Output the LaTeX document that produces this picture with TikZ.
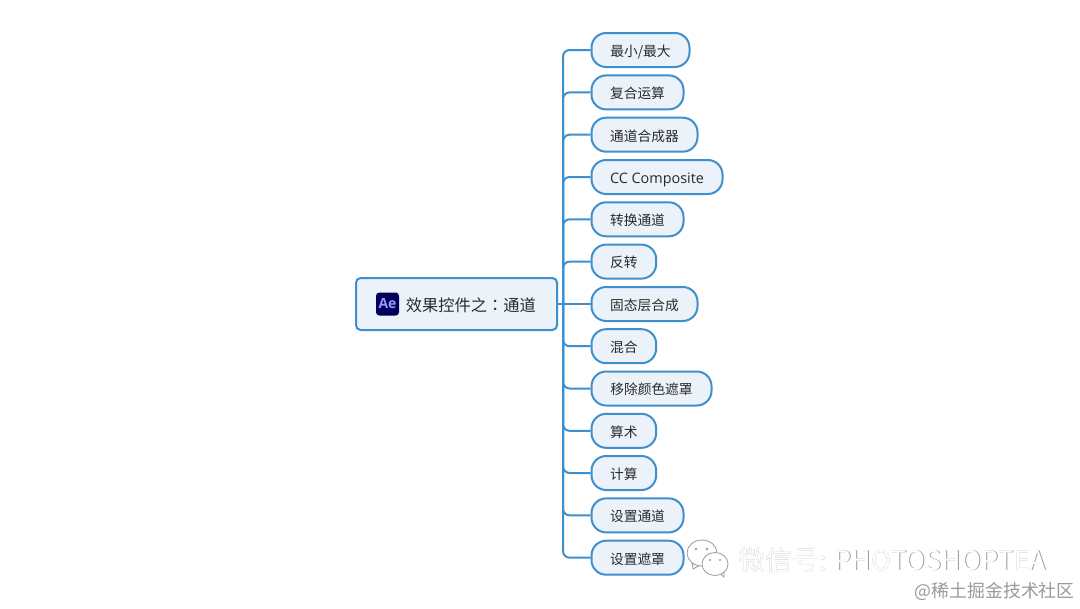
\documentclass[tikz,border=0pt]{standalone}
\usepackage{fontspec}
\setmainfont{Noto Sans CJK SC}
\newfontfamily\latinf{Open Sans}
\newfontfamily\tcf{Noto Sans CJK TC}
\definecolor{edgeblue}{HTML}{3F8FCC}
\definecolor{fillblue}{HTML}{EBF2F9}
\definecolor{inktext}{HTML}{2B2B2B}
\definecolor{aenavy}{HTML}{00005B}
\definecolor{aelilac}{HTML}{9999FF}
\definecolor{markgray}{HTML}{9A9A9A}
\tikzset{
  x=0.75pt,y=-0.75pt,
  leaf/.style={draw=edgeblue,fill=fillblue,line width=1.5pt,rounded corners=11pt,
    minimum height=25.5pt,inner sep=0pt,anchor=west,text=inktext,text height=10.5pt,text depth=1pt,
    font=\fontsize{10.3}{12}\selectfont},
  rootbox/.style={draw=edgeblue,fill=fillblue,line width=1.5pt,rounded corners=3.5pt,
    minimum width=150.75pt,minimum height=39pt,inner sep=0pt,text=inktext},
  link/.style={draw=edgeblue,line width=1.5pt,rounded corners=5pt},
  markshadow/.style={text=markgray,inner sep=0pt,anchor=west},
  markface/.style={text=white,inner sep=0pt,anchor=west},
  bubble/.style={draw=markgray,fill=white,line width=0.6pt}
}
\begin{document}
\begin{tikzpicture}
\useasboundingbox (0,0) rectangle (1080,608);
\fill[white] (0,0) rectangle (1080,608);

\node[rootbox] (root) at (456.5,304) {};
\node[fill=aenavy,rounded corners=2.5pt,minimum size=17.25pt,inner sep=0pt,text=aelilac,font=\latinf\fontsize{10.5}{12}\selectfont\bfseries] (aeicon) at (387.5,304) {Ae};
\node[anchor=west,inner sep=0pt,text=inktext,font=\fontsize{12.2}{14}\selectfont] (roottext) at (405.5,305) {效果控件之{\tcf ：}通道};

\node[leaf,minimum width=73.5pt] (c1) at (590.5,50) {最小/最大};
\node[leaf,minimum width=69pt] (c2) at (590.5,92.4) {复合运算};
\node[leaf,minimum width=79.5pt] (c3) at (590.5,134.7) {通道合成器};
\node[leaf,minimum width=98.25pt] (c4) at (590.5,177) {\latinf\fontsize{10.8}{12}\selectfont CC Composite};
\node[leaf,minimum width=69pt] (c5) at (590.5,219.3) {转换通道};
\node[leaf,minimum width=48.5pt] (c6) at (590.5,261.6) {反转};
\node[leaf,minimum width=79.5pt] (c7) at (590.5,304) {固态层合成};
\node[leaf,minimum width=48.5pt] (c8) at (590.5,346.2) {混合};
\node[leaf,minimum width=90pt] (c9) at (590.5,388.5) {移除颜色遮罩};
\node[leaf,minimum width=48.5pt] (c10) at (590.5,430.8) {算术};
\node[leaf,minimum width=48.5pt] (c11) at (590.5,473) {计算};
\node[leaf,minimum width=69pt] (c12) at (590.5,515.4) {设置通道};
\node[leaf,minimum width=69pt] (c13) at (590.5,557.7) {设置遮罩};

\coordinate (trunk) at (563,304);
\foreach \n in {1,...,6,8,9,...,13} {
  \draw[link] (trunk) |- (c\n.west);
}
\draw[link] (root.east) -- (c7.west);

% watermark
\draw[bubble] (692,560) -- (693,569) -- (702,564);
\draw[bubble] (702,553) ellipse [x radius=15,y radius=13];
\fill[markgray] (696,549) circle (1.3) (707,549) circle (1.3);
\draw[bubble] (719,573) -- (724,577) -- (724,571);
\draw[bubble] (715,564) ellipse [x radius=13,y radius=11.5];
\fill[markgray] (710,560) circle (1.2) (720,560) circle (1.2);

\node[markshadow,font=\fontsize{20.2}{24}\selectfont] (wm1) at (738.7,560.7) {微信号: PHOTOSHOPTEA};
\node[markface,font=\fontsize{20.2}{24}\selectfont] (wm1b) at (738,560) {微信号: PHOTOSHOPTEA};
\node[markshadow,font=\fontsize{13.4}{16}\selectfont] (wm2) at (914.5,591) {@稀土掘金技术社区};
\end{tikzpicture}
\end{document}
